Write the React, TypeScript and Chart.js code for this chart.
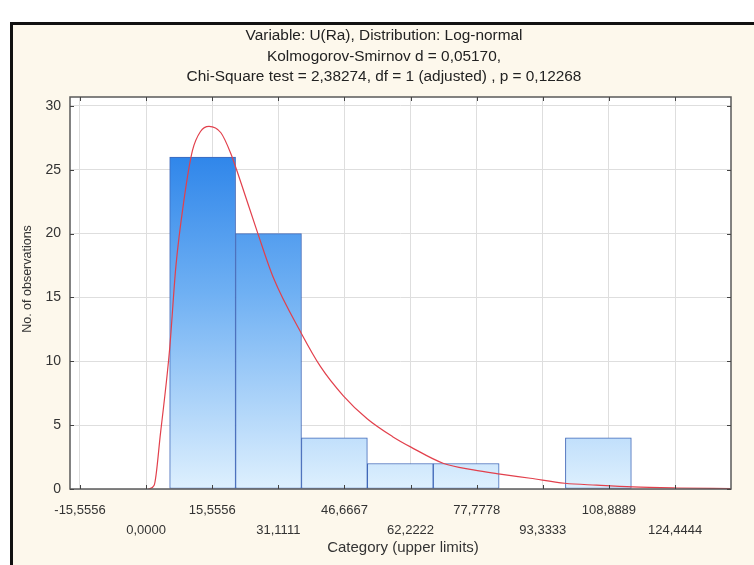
import React, { useEffect, useRef } from 'react';
import { Chart, registerables } from 'chart.js';

Chart.register(...registerables);

const TITLE_LINES = [
  'Variable: U(Ra), Distribution: Log-normal',
  'Kolmogorov-Smirnov d = 0,05170,',
  'Chi-Square test = 2,38274, df = 1 (adjusted) , p = 0,12268',
];
const X_TITLE = 'Category (upper limits)';
const Y_TITLE = 'No. of observations';

const X_TICKS = [-15.5556, 0, 15.5556, 31.1111, 46.6667, 62.2222, 77.7778, 93.3333, 108.8889, 124.4444];
const X_TICK_LABELS = ['-15,5556', '0,0000', '15,5556', '31,1111', '46,6667', '62,2222', '77,7778', '93,3333', '108,8889', '124,4444'];
const Y_TICKS = [0, 5, 10, 15, 20, 25, 30];

const BIN_CENTERS = [13.3, 28.8, 44.3, 59.8, 75.3, 90.8, 106.4];
const BIN_COUNTS = [26, 20, 4, 2, 2, 0, 4];

const CURVE_X = [0.5, 1.9, 3.4, 5.0, 5.6, 7.0, 8.9, 10.9, 12.8, 14.8, 17.6, 19.9, 22.3, 26.2, 30.0, 36.5, 41.0, 46.4, 52.0, 58.0, 62.2, 70.0, 77.0, 83.3, 90.4, 98.5, 106.0, 114.5, 125.0, 137.6];
const CURVE_Y = [0, 0.3, 4.4, 9.1, 11.2, 17.4, 22.6, 26.5, 28.0, 28.4, 27.9, 26.3, 24.0, 20.1, 16.5, 12.2, 9.6, 7.3, 5.5, 4.1, 3.3, 2.0, 1.5, 1.17, 0.84, 0.45, 0.3, 0.16, 0.08, 0.03];

const X_MIN = -17.9;
const X_MAX = 137.6;
const Y_MIN = 0;
const Y_MAX = 30.7;

const FONT = '"Liberation Sans", Arial, sans-serif';

export default function App() {
  const canvasRef = useRef<HTMLCanvasElement | null>(null);

  useEffect(() => {
    const canvas = canvasRef.current;
    if (!canvas) return;

    const decor = {
      id: 'decor',
      beforeDraw(chart: any) {
        const { ctx, chartArea: a } = chart;
        ctx.save();
        ctx.fillStyle = '#ffffff';
        ctx.fillRect(a.left, a.top, a.right - a.left, a.bottom - a.top);
        ctx.restore();
      },
      afterDraw(chart: any) {
        const { ctx, chartArea: a } = chart;
        const xs = chart.scales.x;
        const ys = chart.scales.y;
        ctx.save();
        ctx.strokeStyle = '#5a5a5a';
        ctx.lineWidth = 1.5;
        ctx.strokeRect(a.left, a.top, a.right - a.left, a.bottom - a.top);
        ctx.lineWidth = 1;
        ctx.strokeStyle = '#444';
        ctx.beginPath();
        X_TICKS.forEach((v) => {
          const px = Math.round(xs.getPixelForValue(v)) + 0.5;
          ctx.moveTo(px, a.bottom);
          ctx.lineTo(px, a.bottom - 4);
          ctx.moveTo(px, a.top);
          ctx.lineTo(px, a.top + 4);
        });
        Y_TICKS.forEach((v) => {
          const py = Math.round(ys.getPixelForValue(v)) + 0.5;
          ctx.moveTo(a.left, py);
          ctx.lineTo(a.left + 4, py);
          ctx.moveTo(a.right, py);
          ctx.lineTo(a.right - 4, py);
        });
        ctx.stroke();

        ctx.fillStyle = '#222';
        ctx.textAlign = 'center';
        ctx.textBaseline = 'middle';
        ctx.font = '15.4px ' + FONT;
        TITLE_LINES.forEach((t, i) => ctx.fillText(t, 384, 36 + i * 20.5));
        ctx.fillStyle = '#333';
        ctx.font = '15px ' + FONT;
        ctx.fillText(X_TITLE, 403, 548);
        ctx.font = '12.5px ' + FONT;
        ctx.translate(28, 279);
        ctx.rotate(-Math.PI / 2);
        ctx.fillText(Y_TITLE, 0, 0);
        ctx.restore();
      },
    };

    const chart = new Chart(canvas, {
      type: 'bar',
      data: {
        datasets: [
          {
            type: 'line',
            label: 'fit',
            data: CURVE_X.map((x, i) => ({ x, y: CURVE_Y[i] })),
            borderColor: '#e2404c',
            borderWidth: 1.2,
            pointRadius: 0,
            fill: false,
            cubicInterpolationMode: 'monotone',
            order: 0,
          } as any,
          {
            type: 'bar',
            label: 'count',
            data: BIN_CENTERS.map((x, i) => ({ x, y: BIN_COUNTS[i] })),
            backgroundColor: (c: any) => {
              const ch = c.chart;
              const a = ch.chartArea;
              if (!a) return '#7db8f5';
              const g = ch.ctx.createLinearGradient(0, a.top, 0, a.bottom);
              g.addColorStop(0, '#1474e6');
              g.addColorStop(0.5, '#6fb0f3');
              g.addColorStop(1, '#def0fe');
              return g;
            },
            borderColor: '#3f67b8',
            borderWidth: 1,
            borderSkipped: false,
            barPercentage: 1,
            categoryPercentage: 1,
            order: 1,
          } as any,
        ],
      },
      options: {
        animation: false,
        responsive: false,
        devicePixelRatio: 1,
        layout: { padding: { top: 97, left: 0, right: 23, bottom: 0 } },
        plugins: { legend: { display: false }, title: { display: false }, tooltip: { enabled: false } },
        scales: {
          x: {
            type: 'linear',
            min: X_MIN,
            max: X_MAX,
            offset: false,
            afterBuildTicks: (s: any) => {
              s.ticks = X_TICKS.map((v) => ({ value: v }));
            },
            afterFit: (s: any) => {
              s.height = 76;
            },
            grid: { color: '#dedede', lineWidth: 1, drawTicks: false, offset: false },
            border: { display: false },
            ticks: {
              autoSkip: false,
              maxRotation: 0,
              padding: 11,
              color: '#333',
              font: { family: FONT, size: 13, lineHeight: '20px' } as any,
              callback: (_v: any, i: number) => (i % 2 === 0 ? [X_TICK_LABELS[i], ''] : ['', X_TICK_LABELS[i]]),
            },
          },
          y: {
            type: 'linear',
            min: Y_MIN,
            max: Y_MAX,
            afterBuildTicks: (s: any) => {
              s.ticks = Y_TICKS.map((v) => ({ value: v }));
            },
            afterFit: (s: any) => {
              s.width = 70;
            },
            grid: { color: '#dedede', lineWidth: 1, drawTicks: false },
            border: { display: false },
            ticks: {
              padding: 9,
              color: '#333',
              font: { family: FONT, size: 14 },
              callback: (v: any) => String(v),
            },
          },
        },
      },
      plugins: [decor],
    });

    return () => chart.destroy();
  }, []);

  return (
    <div style={{ position: 'fixed', left: 0, top: 0, width: 754, height: 565, background: '#ffffff', overflow: 'hidden' }}>
      <div
        style={{
          position: 'absolute',
          left: 10,
          top: 22,
          width: 800,
          height: 600,
          border: '3px solid #111',
          background: '#fdf8ec',
          boxSizing: 'border-box',
        }}
      />
      <canvas ref={canvasRef} width={754} height={565} style={{ position: 'absolute', left: 0, top: 0, width: 754, height: 565 }} />
    </div>
  );
}
